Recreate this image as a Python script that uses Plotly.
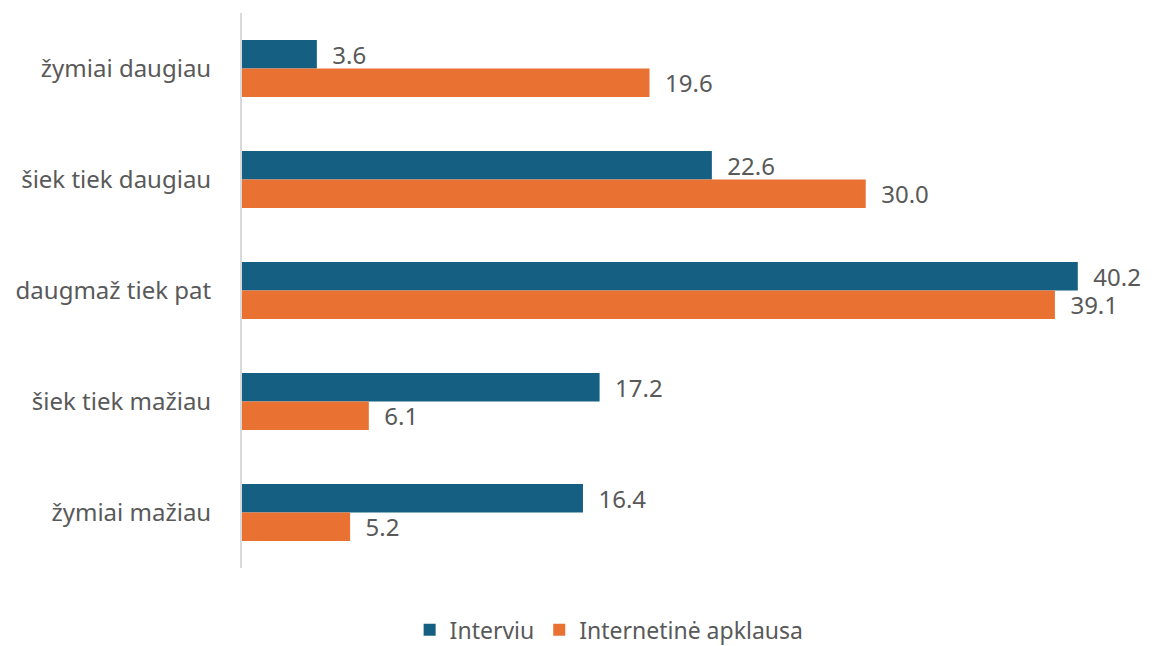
import plotly.graph_objects as go

categories = ["žymiai daugiau", "šiek tiek daugiau", "daugmaž tiek pat", "šiek tiek mažiau", "žymiai mažiau"]
interviu = [3.6, 22.6, 40.2, 17.2, 16.4]
internetine = [19.6, 30.0, 39.1, 6.1, 5.2]

series_names = ["Interviu", "Internetinė apklausa"]
colors = ["#156082", "#E97132"]

font_family = "'Noto Sans', sans-serif"
text_color = "#595959"
pad = "\u00a0\u00a0"

fig = go.Figure()
for name, vals, col in zip(series_names, [interviu, internetine], colors):
    fig.add_trace(go.Bar(
        y=categories, x=vals, name=name, orientation="h",
        marker=dict(color=col, line=dict(width=0)),
        text=[f"{pad}{v:.1f}" for v in vals], textposition="outside",
        constraintext="none",
        textfont=dict(size=24, color=text_color, family=font_family),
        cliponaxis=False,
    ))

fig.update_layout(
    width=1156, height=646,
    margin=dict(l=234, r=28, t=5, b=86, autoexpand=False),
    plot_bgcolor="white", paper_bgcolor="white",
    barmode="group", bargap=0.485, bargroupgap=0,
    font=dict(family=font_family, size=24, color=text_color),
    showlegend=True,
    legend=dict(orientation="h", xref="container", yref="container",
                x=0.52, xanchor="center", y=0.004, yanchor="bottom",
                itemwidth=30, tracegroupgap=0,
                font=dict(size=23, color=text_color), traceorder="normal"),
)
fig.update_xaxes(range=[0, 43], visible=False, showgrid=False, zeroline=False)
fig.update_yaxes(autorange="reversed", showline=True, linecolor="#d9d9d9", linewidth=2,
                 ticks="", ticklabelstandoff=24, automargin=False,
                 tickfont=dict(size=24, color=text_color), showgrid=False)

fig.write_html("out.html")
